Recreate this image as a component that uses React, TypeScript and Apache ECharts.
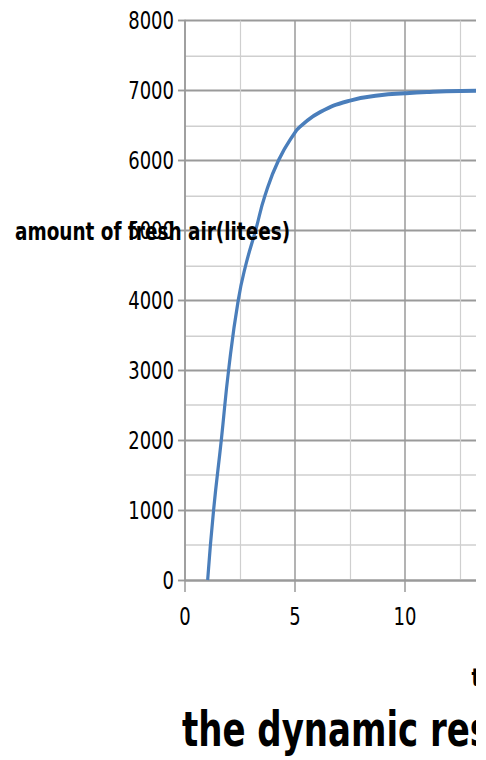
import React, { useEffect, useRef } from "react";
import * as echarts from "echarts";

// time (x) and amount of fresh air (y)
const tValues = [1.03, 1.3, 1.65, 2.0, 2.42, 2.76, 3.21, 3.64, 4.25, 5, 5.3, 6.14, 7.5, 8.86, 10, 11, 12.5, 15, 20, 25, 30];
const airValues = [0, 1000, 2000, 3050, 4000, 4500, 5000, 5500, 6000, 6400, 6500, 6690, 6855, 6930, 6960, 6978, 6993, 7000, 7000, 7000, 7000];

const xMin = 0;
const xMax = 30;
const xInterval = 5;
const yMin = 0;
const yMax = 8000;
const yInterval = 1000;

const titleText = "the dynamic response of fresh air";
const xName = "time(s)";
const yName = "amount of fresh air(litees)";

const FONT = '"DejaVu Sans Condensed", "DejaVu Sans", sans-serif';
const SCALE_Y = 1.25;

export default function App() {
  const ref = useRef<HTMLDivElement>(null);
  useEffect(() => {
    document.documentElement.style.overflow = "hidden";
    document.body.style.overflow = "hidden";
    const chart = echarts.init(ref.current!, null, { renderer: "svg" });
    const major = { color: "#9a9a9a", width: 1.5 };
    const minor = { color: "#cfcfcf", width: 1.2 };
    chart.setOption({
      animation: false,
      backgroundColor: "#fff",
      title: {
        text: titleText,
        left: 174,
        top: 558.4,
        padding: 0,
        textStyle: { fontFamily: FONT, fontWeight: "bold", fontSize: 37.8, color: "#000" },
      },
      graphic: [
        {
          type: "text",
          x: 7,
          y: 178.4,
          style: {
            text: yName,
            fontFamily: FONT,
            fontWeight: "bold",
            fontSize: 20.5,
            fill: "#000",
            verticalAlign: "middle",
            align: "left",
          },
          z: 10,
        },
      ],
      grid: { left: 177, top: 8.8, width: 660, height: 448.8 },
      xAxis: {
        type: "value",
        min: xMin,
        max: xMax,
        interval: xInterval,
        name: xName,
        nameLocation: "middle",
        nameGap: 68,
        nameTextStyle: {
          fontFamily: FONT,
          fontWeight: "bold",
          fontSize: 20,
          color: "#000",
          padding: [0, 14, 0, 0],
        },
        axisLine: { show: true, lineStyle: major },
        axisTick: { show: true, length: 9.6, lineStyle: major },
        axisLabel: { margin: 19, fontFamily: FONT, fontSize: 20, color: "#000" },
        splitLine: { show: true, lineStyle: major },
        minorTick: { show: false, splitNumber: 2 },
        minorSplitLine: { show: true, lineStyle: minor },
      },
      yAxis: {
        type: "value",
        min: yMin,
        max: yMax,
        interval: yInterval,
        axisLine: { show: true, lineStyle: major },
        axisTick: { show: true, length: 7, lineStyle: major },
        axisLabel: {
          margin: 11,
          fontFamily: FONT,
          fontSize: 20,
          color: "#000",
          formatter: (v: number) => String(v),
        },
        splitLine: { show: true, lineStyle: major },
        minorTick: { show: false, splitNumber: 2 },
        minorSplitLine: { show: true, lineStyle: minor },
      },
      series: [
        {
          type: "line",
          data: tValues.map((t, i) => [t, airValues[i]]),
          showSymbol: false,
          smooth: 0.5,
          lineStyle: { color: "#4a7ebb", width: 3.2 },
          z: 5,
        },
      ],
    });
    return () => chart.dispose();
  }, []);
  return (
    <div style={{ width: 468, height: 752, overflow: "hidden", position: "relative" }}>
      <div style={{ transform: `scale(1, ${SCALE_Y})`, transformOrigin: "0 0" }}>
        <div ref={ref} style={{ width: 900, height: 600 }} />
      </div>
    </div>
  );
}
